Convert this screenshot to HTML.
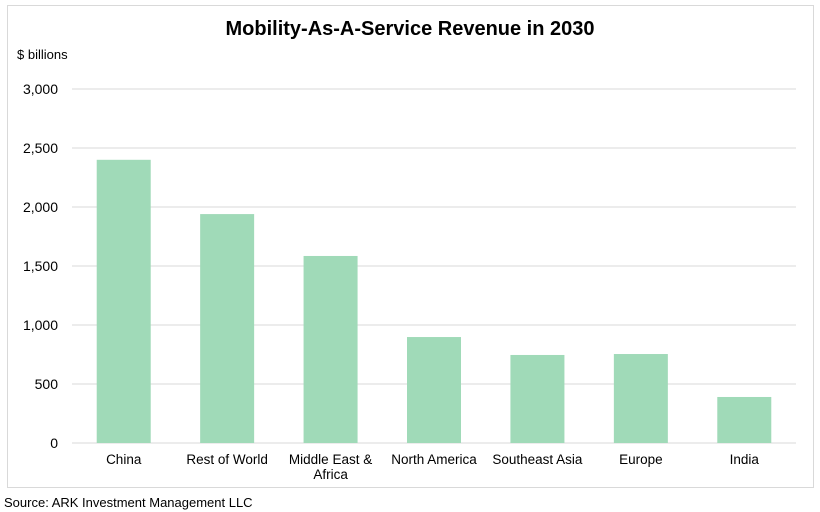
<!DOCTYPE html>
<html><head><meta charset="utf-8"><style>
body{margin:0;background:#fff;}
svg{display:block;font-family:"Liberation Sans",sans-serif;}
</style></head><body>
<svg id="chart" width="820" height="512">
<rect x="7.5" y="5.5" width="806" height="482" fill="#fff" stroke="#d9d9d9"/>
<text x="410" y="35" text-anchor="middle" font-size="20" font-weight="bold" fill="#000">Mobility-As-A-Service Revenue in 2030</text>
<text x="17" y="59" font-size="13" fill="#000">$ billions</text>
<g id="grid"></g><g id="bars"></g><g id="xlabels"></g>
<text x="4" y="507" font-size="13" fill="#000">Source: ARK Investment Management LLC</text>
</svg>
<script>
const categories=["China","Rest of World","Middle East & Africa","North America","Southeast Asia","Europe","India"];
const values=[2400,1940,1585,898,746,754,390];
const ticks=[0,500,1000,1500,2000,2500,3000];
const tickLabels=["0","500","1,000","1,500","2,000","2,500","3,000"];
const NS="http://www.w3.org/2000/svg";
const x0=72,x1=796,y0=443,y1=89,yMax=3000;
const y=v=>y0-(v/yMax)*(y0-y1);
const band=(x1-x0)/categories.length;
const xc=i=>x0+band*(i+0.5);
function mk(t,a,p){const e=document.createElementNS(NS,t);for(const k in a)e.setAttribute(k,a[k]);p.appendChild(e);return e;}
const grid=document.getElementById('grid');
ticks.forEach((t,i)=>{
 const l=mk('line',{x1:x0,x2:x1,y1:y(t),y2:y(t),stroke:'#d9d9d9','stroke-width':1},grid);
 
 
 const tx=mk('text',{x:58,y:y(t)+5,'text-anchor':'end','font-size':14},grid);
 tx.textContent=tickLabels[i];
 
 
});
const bars=document.getElementById('bars'),xl=document.getElementById('xlabels');
values.forEach((v,i)=>{
 const r=mk('rect',{x:xc(i)-27,y:y(v),width:54,height:y0-y(v),fill:'#a0dab8'},bars);
 
 
 const t=mk('text',{x:xc(i),y:464,'text-anchor':'middle','font-size':13.5},xl);
 
 
 const c=categories[i];
 if(c==="Middle East & Africa"){
  mk('tspan',{x:xc(i),dy:0},t).textContent="Middle East &";
  mk('tspan',{x:xc(i),dy:15},t).textContent="Africa";
 } else t.textContent=c;
});
</script>
</body></html>
